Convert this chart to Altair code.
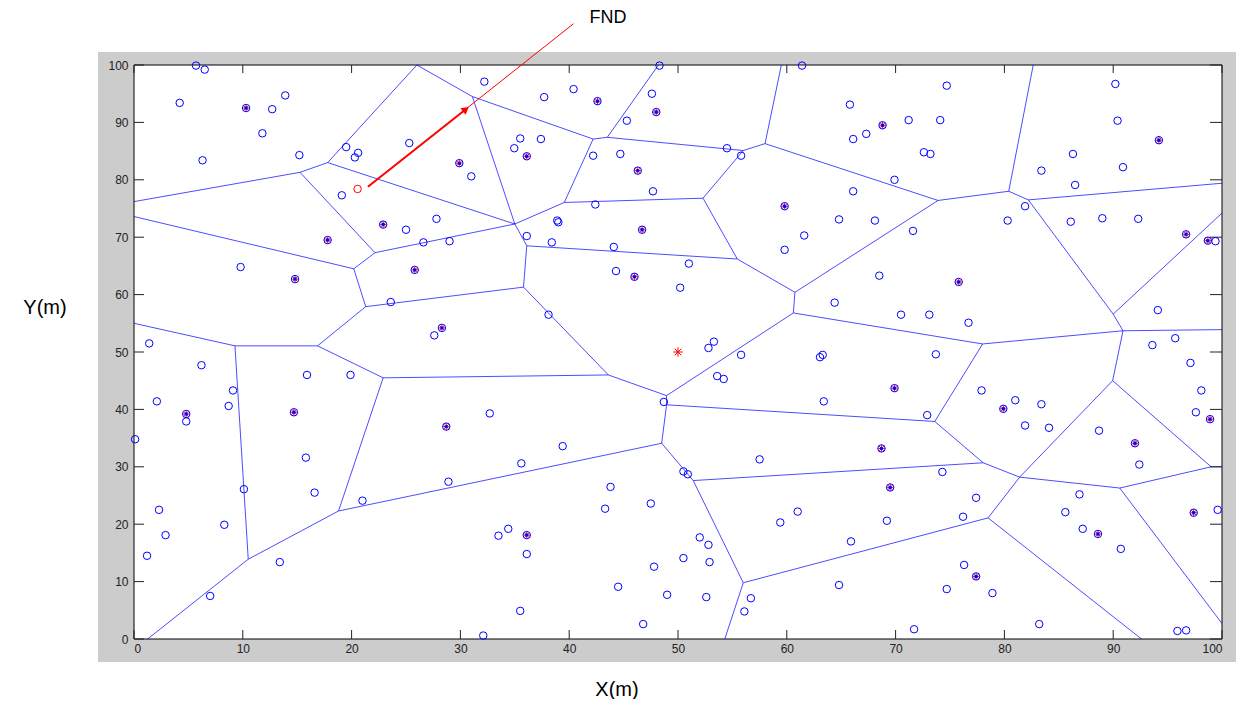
import altair as alt
import pandas as pd

# ---------------- data ----------------
# ordinary sensor nodes (blue circles)
node_x = [5.7, 6.5, 4.2, 12.7, 13.9, 11.8, 6.3, 15.2, 19.5, 20.3, 20.6, 19.1,
          32.2, 37.7, 40.4, 47.6, 48.3, 45.3, 25.3, 31.0, 35.5, 37.4, 34.95, 42.2, 44.7, 47.7, 42.4,
          25.0, 27.8, 26.6, 29.0, 38.9, 39.0, 36.1, 38.4, 44.1,
          61.4, 65.8, 67.3, 66.1, 71.2, 74.1, 74.7, 72.6, 73.2, 69.9, 54.5, 55.8, 66.1, 64.8, 68.1,
          71.6, 61.6, 59.8,
          90.2, 90.4, 86.3, 83.4, 90.9, 86.5, 81.9, 80.3, 86.1, 89.0, 92.3, 99.4,
          9.8, 1.4, 6.2, 15.9, 19.9, 9.1, 2.1, 8.7, 4.8, 0.1,
          23.6, 44.3, 27.6, 38.1, 32.7, 48.7, 39.4,
          51.0, 50.2, 68.5, 64.4, 70.5, 73.1, 53.3, 52.8, 55.8, 63.3, 63.05, 73.7, 53.6, 54.2, 63.4, 72.9,
          76.7, 94.1, 95.7, 93.6, 97.1, 98.1, 97.6, 77.9, 81.0, 83.4, 81.9, 84.1, 88.7,
          15.8, 10.1, 16.6, 21.0, 2.3, 8.3, 2.9, 1.2, 13.4, 7.0,
          35.6, 28.9, 43.8, 43.3, 47.5, 34.4, 33.5, 36.1, 47.8, 44.5, 35.5, 46.8, 32.1, 49.0,
          57.5, 50.5, 50.9, 74.3, 61.0, 59.4, 69.2, 65.9, 52.0, 52.8, 50.5, 52.9, 64.8, 52.6, 56.7,
          56.1, 71.7, 74.7,
          92.4, 77.4, 76.2, 86.9, 85.6, 87.2, 90.7, 99.6, 76.3, 78.9, 83.2, 95.9, 96.7]
node_y = [99.9, 99.2, 93.4, 92.3, 94.7, 88.1, 83.4, 84.3, 85.7, 83.9, 84.7, 77.3,
          97.1, 94.4, 95.8, 95.0, 99.9, 90.3, 86.4, 80.6, 87.2, 87.1, 85.5, 84.2, 84.5, 78.0, 75.7,
          71.3, 73.2, 69.1, 69.3, 72.9, 72.6, 70.2, 69.1, 68.3,
          99.9, 93.1, 88.0, 87.1, 90.4, 90.4, 96.4, 84.8, 84.5, 80.0, 85.5, 84.2, 78.0, 73.1, 72.9,
          71.1, 70.3, 67.8,
          96.7, 90.3, 84.5, 81.6, 82.2, 79.1, 75.4, 72.9, 72.7, 73.3, 73.2, 69.3,
          64.8, 51.5, 47.7, 46.0, 46.0, 43.3, 41.4, 40.6, 37.9, 34.8,
          58.7, 64.1, 52.9, 56.5, 39.3, 41.3, 33.6,
          65.4, 61.2, 63.3, 58.6, 56.5, 56.5, 51.8, 50.7, 49.5, 49.5, 49.1, 49.6, 45.8, 45.3, 41.4, 39.0,
          55.1, 57.3, 52.4, 51.2, 48.1, 43.3, 39.5, 43.3, 41.6, 40.9, 37.2, 36.8, 36.3,
          31.6, 26.1, 25.5, 24.1, 22.5, 19.9, 18.1, 14.5, 13.4, 7.5,
          30.6, 27.4, 26.5, 22.7, 23.6, 19.2, 18.0, 14.8, 12.6, 9.1, 4.9, 2.6, 0.6, 7.7,
          31.3, 29.2, 28.7, 29.1, 22.2, 20.3, 20.6, 17.0, 17.7, 16.4, 14.1, 13.4, 9.4, 7.3, 7.1,
          4.8, 1.7, 8.7,
          30.4, 24.6, 21.3, 25.2, 22.1, 19.2, 15.7, 22.5, 12.9, 8.0, 2.6, 1.4, 1.5]

# cluster heads
ch_x = [10.3, 22.9, 17.8, 29.9, 36.1, 42.6, 48.0, 46.3, 46.7, 68.8, 59.8, 94.2, 96.7, 98.7,
        14.8, 25.8, 28.3, 46.0, 4.8, 14.7, 28.7, 75.8, 69.9, 68.7, 79.9, 98.9, 92.0, 36.1,
        69.5, 88.6, 97.4, 77.4]
ch_y = [92.5, 72.2, 69.5, 82.9, 84.1, 93.7, 91.8, 81.6, 71.3, 89.5, 75.4, 86.9, 70.5, 69.4,
        62.7, 64.3, 54.2, 63.1, 39.2, 39.5, 37.0, 62.2, 43.7, 33.2, 40.1, 38.3, 34.1, 18.1,
        26.4, 18.3, 22.0, 10.9]

# first dead node and sink
fnd_x = [20.55]
fnd_y = [78.4]
sink_x = [50.0]
sink_y = [50.0]

# Voronoi vertices
vert_name = ["L1", "L2", "L3", "T1", "T2", "T3", "T4", "R1", "R2", "R3", "R4", "R5", "B1", "B2", "B3",
             "V1", "V2", "V4", "V5", "V6", "V7", "A", "B", "C", "V8", "V9", "V10", "V11", "V11b",
             "V12", "V13", "V14", "V15", "V16", "V17", "V18", "V19", "V20", "Pa", "Pb", "V21",
             "V22", "V23", "V24", "V25", "V26", "V27", "V28", "V29", "V30", "V31", "V32", "V33",
             "V34", "V35", "V36", "V37"]
vert_x = [0, 0, 0, 26.0, 48.2, 59.5, 82.65, 100, 100, 100, 100, 100, 1.25, 54.3, 92.6,
          15.26, 17.8, 31.1, 35.0, 42.2, 43.5, 56.0, 58.0, 52.3, 39.55, 22.15, 36.1, 55.45, 60.75,
          35.8, 21.3, 20.2, 16.87, 9.28, 22.9, 10.5, 18.8, 43.6, 48.95, 48.95, 48.5,
          60.6, 73.6, 51.4, 56.0, 78.5, 78.05, 81.4, 90.6, 89.95, 99.0, 90.9, 78.0,
          80.4, 90.0, 73.9, 82.2]
vert_y = [76.2, 73.6, 55.0, 100, 100, 100, 100, 79.4, 74.2, 53.9, 30.0, 2.7, 0, 0, 0,
          81.3, 83.0, 94.5, 72.3, 87.1, 87.4, 85.1, 86.3, 76.8, 76.05, 67.3, 68.5, 66.2, 60.4,
          61.3, 57.9, 64.5, 51.07, 51.07, 45.5, 13.9, 22.3, 46.0, 42.4, 40.8, 34.1,
          56.8, 37.9, 27.6, 9.8, 21.1, 30.7, 28.2, 26.3, 45.0, 30.0, 53.7, 51.4,
          78.0, 56.6, 76.4, 76.5]

edge_a = ["L1", "V1", "V2", "T1", "V4", "V4", "V2", "V1", "L2", "V14", "V9", "V5", "V5", "V8", "V6",
          "V7", "V7", "A", "B", "A", "C", "C", "V10", "V10", "V11", "V11b", "V11b", "B", "V36",
          "V34", "V34", "V37", "V37", "V35", "V35", "V32", "V32", "V32", "V33", "V33", "V22",
          "V12", "V12", "V13", "V13", "V15", "V16", "V16", "V15", "V17", "V17", "V18", "V18",
          "V19", "V20", "Pa", "Pb", "Pb", "V23", "V21", "V24", "V24", "V25", "V25", "V27", "V28",
          "V28", "V28", "V26", "V29", "V29", "V31", "V31"]
edge_b = ["V1", "V2", "T1", "V4", "V6", "V5", "V5", "V9", "V14", "V9", "V5", "V8", "V10", "V6", "V7",
          "T2", "A", "B", "T3", "C", "V8", "V11", "V11", "V12", "V11b", "V22", "V36", "V36", "V34",
          "T4", "V37", "R1", "V35", "R2", "V32", "R3", "V33", "V30", "V22", "V23", "Pa",
          "V13", "V20", "V14", "V15", "V16", "L3", "V18", "V17", "V20", "V19", "B1", "V19",
          "V21", "Pa", "Pb", "V23", "V21", "V27", "V24", "V27", "V25", "B2", "V26", "V28", "V26",
          "V29", "V30", "B3", "V31", "R5", "R4", "V30"]

# FND annotation line (thin) and arrow (thick) end points
fnd_line_x = [21.5, 40.4]
fnd_line_y = [78.8, 107.2]
fnd_arrow_x = [21.5, 30.5]
fnd_arrow_y = [78.8, 92.3]

tick_values = list(range(0, 101, 10))

# ---------------- tables ----------------
vpos = {n: (x, y) for n, x, y in zip(vert_name, vert_x, vert_y)}
edges = pd.DataFrame({
    "x1": [vpos[a][0] for a in edge_a], "y1": [vpos[a][1] for a in edge_a],
    "x2": [vpos[b][0] for b in edge_b], "y2": [vpos[b][1] for b in edge_b],
})
nodes = pd.DataFrame({"x": node_x, "y": node_y})
heads = pd.DataFrame({"x": ch_x, "y": ch_y})
fnd = pd.DataFrame({"x": fnd_x, "y": fnd_y})
sink = pd.DataFrame({"x": sink_x, "y": sink_y})
fline = pd.DataFrame({"x1": [fnd_line_x[0]], "y1": [fnd_line_y[0]], "x2": [fnd_line_x[1]], "y2": [fnd_line_y[1]]})
farrow = pd.DataFrame({"x1": [fnd_arrow_x[0]], "y1": [fnd_arrow_y[0]], "x2": [fnd_arrow_x[1]], "y2": [fnd_arrow_y[1]]})
ahead = pd.DataFrame({"x": [fnd_arrow_x[1]], "y": [fnd_arrow_y[1]]})
ticks = pd.DataFrame({"v": tick_values})
one = pd.DataFrame({"a": [0]})

W, H = 1088, 574
FONT = "Liberation Sans"
xs = alt.Scale(domain=[0, 100], nice=False, zero=False)
ys = alt.Scale(domain=[0, 100], nice=False, zero=False)
xax = alt.Axis(values=tick_values, ticks=False, domain=False, grid=False, title=None,
               labelFont=FONT, labelFontSize=12, labelColor="#222222", labelPadding=4, zindex=1)
yax = alt.Axis(values=tick_values, ticks=False, domain=False, grid=False, title=None,
               labelFont=FONT, labelFontSize=12, labelColor="#222222", labelPadding=6, zindex=1)

def X(f):
    return alt.X(f, type="quantitative", scale=xs, axis=xax)

def Y(f):
    return alt.Y(f, type="quantitative", scale=ys, axis=yax)

ASTER = "M-1,0L1,0M0,-1L0,1M-0.7,-0.7L0.7,0.7M-0.7,0.7L0.7,-0.7"

bg = alt.Chart(one).mark_rect(color="#cccccc").encode(
    x=alt.value(-36), x2=alt.value(1102), y=alt.value(-13), y2=alt.value(597))
panel = alt.Chart(one).mark_rect(fill="white", stroke="#000000", strokeWidth=1).encode(
    x=alt.value(0), x2=alt.value(W), y=alt.value(0), y2=alt.value(H))

xt_bot = alt.Chart(ticks).mark_rule(color="#222222").encode(x=X("v"), y=alt.value(H), y2=alt.value(H - 9))
xt_top = alt.Chart(ticks).mark_rule(color="#222222").encode(x=X("v"), y=alt.value(0), y2=alt.value(8))
yt_l = alt.Chart(ticks).mark_rule(color="#222222").encode(y=Y("v"), x=alt.value(0), x2=alt.value(10))
yt_r = alt.Chart(ticks).mark_rule(color="#222222").encode(y=Y("v"), x=alt.value(W), x2=alt.value(W - 12))

vor = alt.Chart(edges).mark_rule(color="#0000ff", strokeWidth=1, opacity=0.7).encode(
    x=X("x1"), y=Y("y1"), x2="x2", y2="y2")

pts = alt.Chart(nodes).mark_point(shape="circle", filled=False, color="#0000ff",
                                  size=56, strokeWidth=1, opacity=1).encode(x=X("x"), y=Y("y"))
ch_s = alt.Chart(heads).mark_point(shape=ASTER, filled=False, color="#ff0000",
                                   size=50, strokeWidth=1, opacity=0.9).encode(x=X("x"), y=Y("y"))
ch_c = alt.Chart(heads).mark_point(shape="circle", filled=False, color="#0000ff",
                                   size=56, strokeWidth=1, opacity=1).encode(x=X("x"), y=Y("y"))
ch_d = alt.Chart(heads).mark_point(shape="circle", filled=True, color="#0000ff",
                                   size=12, opacity=1).encode(x=X("x"), y=Y("y"))
dead = alt.Chart(fnd).mark_point(shape="circle", filled=False, color="#ff0000",
                                 size=56, strokeWidth=1, opacity=1).encode(x=X("x"), y=Y("y"))
snk = alt.Chart(sink).mark_point(shape=ASTER, filled=False, color="#ff0000",
                                 size=90, strokeWidth=1, opacity=1).encode(x=X("x"), y=Y("y"))

fl = alt.Chart(fline).mark_rule(color="#ff0000", strokeWidth=1).encode(
    x=X("x1"), y=Y("y1"), x2="x2", y2="y2")
fa = alt.Chart(farrow).mark_rule(color="#ff0000", strokeWidth=2).encode(
    x=X("x1"), y=Y("y1"), x2="x2", y2="y2")
fh = alt.Chart(ahead).mark_point(shape="triangle-up", filled=True, color="#ff0000",
                                 size=70, angle=51.5, opacity=1).encode(x=X("x"), y=Y("y"))

txt_fnd = alt.Chart(one).mark_text(text="FND", font=FONT, fontSize=18, color="#000000",
                                   align="center", baseline="middle").encode(
    x=alt.value(474), y=alt.value(-47))
txt_x = alt.Chart(one).mark_text(text="X(m)", font=FONT, fontSize=20, color="#000000",
                                 align="center", baseline="middle").encode(
    x=alt.value(483), y=alt.value(625))
txt_y = alt.Chart(one).mark_text(text="Y(m)", font=FONT, fontSize=20, color="#000000",
                                 align="center", baseline="middle").encode(
    x=alt.value(-89), y=alt.value(243))

chart = alt.layer(
    bg, panel, vor, xt_bot, xt_top, yt_l, yt_r, pts, ch_s, ch_c, ch_d, dead, snk, fl, fa, fh,
    txt_fnd, txt_x, txt_y
).properties(
    width=W, height=H,
    autosize=alt.AutoSizeParams(type="none"),
    padding={"left": 126, "top": 57, "right": 14, "bottom": 60},
).configure_view(stroke=None)

chart.save("out.html", embed_options={"renderer": "svg", "actions": False})
